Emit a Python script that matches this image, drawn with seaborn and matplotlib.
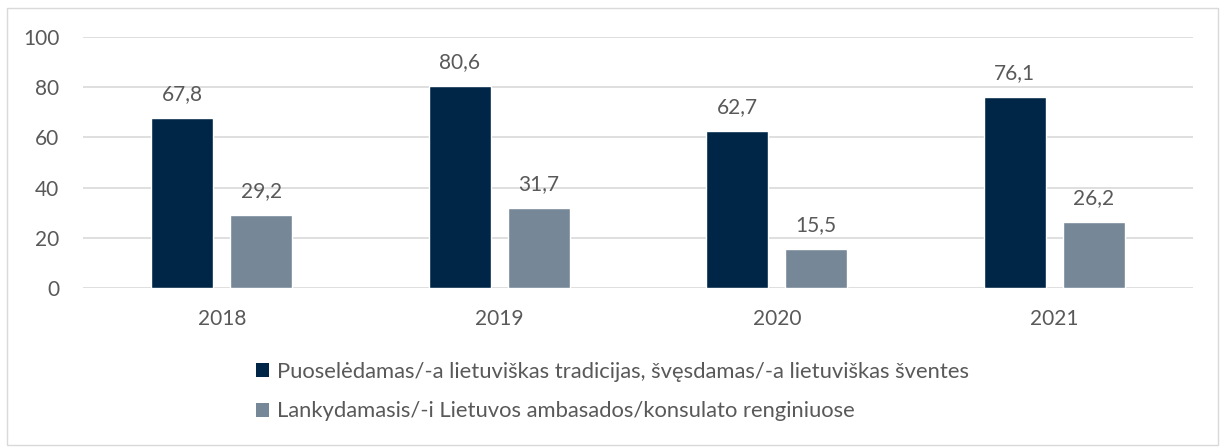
import matplotlib
matplotlib.use("Agg")
import matplotlib.pyplot as plt
import seaborn as sns
import pandas as pd
from matplotlib.patches import Patch, Rectangle

years = ["2018", "2019", "2020", "2021"]
series_names = [
    "Puoselėdamas/-a lietuviškas tradicijas, švęsdamas/-a lietuviškas šventes",
    "Lankydamasis/-i Lietuvos ambasados/konsulato renginiuose",
]
traditions = [67.8, 80.6, 62.7, 76.1]
embassy = [29.2, 31.7, 15.5, 26.2]
y_ticks = [0, 20, 40, 60, 80, 100]

colors = ["#002647", "#768797"]
text_color = "#595959"
grid_color = "#D9D9D9"
fs = 15
lfs = 15.8

df = pd.DataFrame({
    "year": years * 2,
    "value": traditions + embassy,
    "series": [series_names[0]] * 4 + [series_names[1]] * 4,
})

sns.set_theme(style="white")
plt.rcParams["font.family"] = ["Lato", "DejaVu Sans"]

fig = plt.figure(figsize=(12.2, 4.47), dpi=100)
ax = fig.add_axes([83 / 1220, 1 - 288 / 447, 1110 / 1220, 251 / 447])

sns.barplot(data=df, x="year", y="value", hue="series", palette=colors,
            width=0.57, gap=0.22, ax=ax, legend=False, saturation=1)

for cont in ax.containers:
    ax.bar_label(cont, labels=[f"{v:.1f}".replace(".", ",") for v in cont.datavalues],
                 padding=10, fontsize=fs, color=text_color)

ax.set_ylim(0, 100)
ax.set_xlim(-0.5, 3.5)
ax.set_yticks(y_ticks)
ax.yaxis.grid(True, color=grid_color, linewidth=1.2)
ax.set_axisbelow(True)
for s in ax.spines.values():
    s.set_visible(False)
ax.set_xlabel("")
ax.set_ylabel("")
ax.tick_params(axis="y", length=0, pad=17, labelsize=fs, labelcolor=text_color)
ax.tick_params(axis="x", length=0, pad=15, labelsize=fs, labelcolor=text_color)

handles = [Patch(facecolor=c, edgecolor="none") for c in colors]
fig.legend(handles, series_names, loc="upper left",
           bbox_to_anchor=(256 / 1220, 1 - 362 / 447), frameon=False,
           fontsize=lfs, labelcolor=text_color, handlelength=0.6,
           handleheight=0.6, handletextpad=0.35, labelspacing=0.88,
           borderaxespad=0, borderpad=0)

fig.patches.append(Rectangle((7 / 1220, 2 / 447), 1211 / 1220, 437 / 447,
                             transform=fig.transFigure, fill=False,
                             edgecolor=grid_color, linewidth=1))

fig.savefig("out.png", dpi=100)
